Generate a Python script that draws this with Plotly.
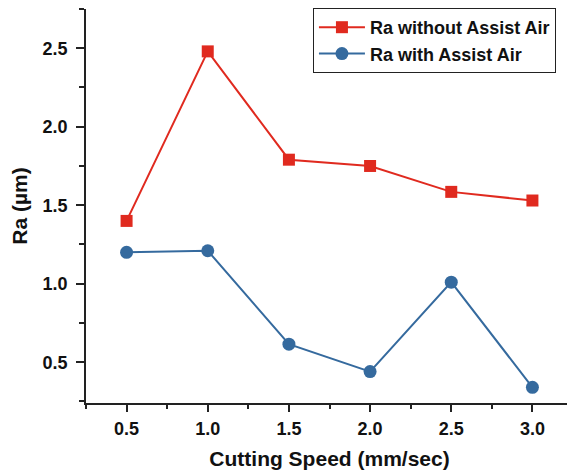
import plotly.graph_objects as go

speed = [0.5, 1.0, 1.5, 2.0, 2.5, 3.0]
ra_without = [1.40, 2.48, 1.79, 1.75, 1.585, 1.53]
ra_with = [1.20, 1.21, 0.615, 0.44, 1.01, 0.34]
x_ticks = [0.5, 1.0, 1.5, 2.0, 2.5, 3.0]
y_ticks = [0.5, 1.0, 1.5, 2.0, 2.5]

RED = "#e02a1f"
BLUE = "#356a9e"
FONT = "Arial, Liberation Sans, sans-serif"

fig = go.Figure()
fig.add_trace(go.Scatter(
    x=speed, y=ra_without, mode="lines+markers", name="Ra without Assist Air",
    line=dict(color=RED, width=2),
    marker=dict(symbol="square", size=12, color=RED),
))
fig.add_trace(go.Scatter(
    x=speed, y=ra_with, mode="lines+markers", name="Ra with Assist Air",
    line=dict(color=BLUE, width=2),
    marker=dict(symbol="circle", size=13, color=BLUE),
))

axis_common = dict(
    showline=True, linecolor="#222", linewidth=1.5,
    ticks="outside", tickcolor="#222", tickwidth=1.5,
    showgrid=False, zeroline=False, automargin=False,
    tickfont=dict(family=FONT, size=18, color="#111", weight="bold"),
)

fig.update_xaxes(
    **axis_common,
    range=[0.25, 3.25], tickvals=x_ticks, ticktext=[f"{v:.1f}" for v in x_ticks],
    ticklen=7, ticklabelstandoff=2,
    minor=dict(ticks="outside", ticklen=4, dtick=0.25, tick0=0.25, tickcolor="#222", tickwidth=1.5),
    title=dict(text="Cutting Speed (mm/sec)", font=dict(family=FONT, size=21, color="#111", weight="bold")),
)
fig.update_yaxes(
    **axis_common,
    range=[0.24, 2.75], tickvals=y_ticks, ticktext=[f"{v:.1f}" for v in y_ticks],
    ticklen=8, ticklabelstandoff=5,
    minor=dict(ticks="outside", ticklen=5, dtick=0.25, tick0=0.25, tickcolor="#222", tickwidth=1.5),
    title=dict(text="Ra (µm)", font=dict(family=FONT, size=21, color="#111", weight="bold")),
)

fig.update_layout(
    width=567, height=462,
    margin=dict(l=78, r=2, t=0, b=67),
    paper_bgcolor="white", plot_bgcolor="white",
    showlegend=True,
    legend=dict(
        x=0.466, y=1.0025, xanchor="left", yanchor="top",
        bordercolor="#222", borderwidth=1, bgcolor="white",
        font=dict(family=FONT, size=18, color="#111", weight="bold"),
        tracegroupgap=0, itemwidth=46,
    ),
)

fig.write_html("out.html")
